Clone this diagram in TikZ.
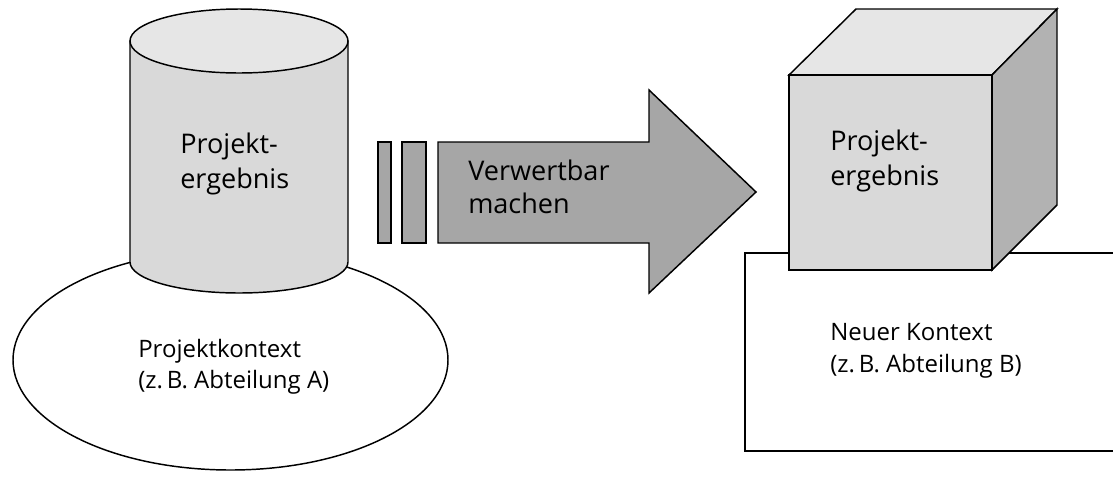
\documentclass[tikz,border=0pt]{standalone}
\usepackage{fontspec}
\setmainfont{Open Sans}
\begin{document}
\begin{tikzpicture}[x=0.75pt,y=-0.75pt,
  outl/.style={draw=black,line width=1.1pt,line join=miter},
  bigtxt/.style={anchor=base west,inner sep=0pt,font=\fontsize{20.3}{24}\selectfont},
  smalltxt/.style={anchor=base west,inner sep=0pt,font=\fontsize{18}{22}\selectfont}]
\useasboundingbox (0,0) rectangle (1113,476);
\definecolor{bodygray}{HTML}{D9D9D9}
\definecolor{topgray}{HTML}{E6E6E6}
\definecolor{sidegray}{HTML}{B2B2B2}
\definecolor{arrowgray}{HTML}{A6A6A6}

% context of the project: large ellipse
\draw[outl,fill=white] (230.5,360) ellipse [x radius=217.5,y radius=110];

% cylinder
\draw[outl,fill=bodygray] (130,41) -- (130,262) arc [start angle=180,end angle=0,x radius=109,y radius=31] -- (348,41) -- cycle;
\draw[outl,fill=topgray] (239,41) ellipse [x radius=109,y radius=32];

\node[bigtxt] (cylA) at (180,153) {Projekt-};
\node[bigtxt] (cylB) at (180,188) {ergebnis};
\node[smalltxt] (ctxA) at (138,357) {Projektkontext};
\node[smalltxt] (ctxB) at (138,388) {(z.\,B. Abteilung A)};

% arrow with two bars
\draw[outl,fill=arrowgray] (378,142) rectangle (391,243);
\draw[outl,fill=arrowgray] (402,142) rectangle (426,243);
\draw[outl,fill=arrowgray] (438,142) -- (649,142) -- (649,90) -- (756,192) -- (649,293) -- (649,243) -- (438,243) -- cycle;
\node[bigtxt] (arrA) at (468,180) {Verwertbar};
\node[bigtxt] (arrB) at (468,213) {machen};

% new context: rectangle running off the right edge
\begin{scope}
\clip (0,0) rectangle (1113,476);
\draw[outl,fill=white] (745,253) rectangle (1125,451);
\end{scope}
\node[smalltxt] (newA) at (830,340) {Neuer Kontext};
\node[smalltxt] (newB) at (830,372) {(z.\,B. Abteilung B)};

% cube
\draw[outl,fill=topgray] (789,75) -- (856,9) -- (1057,9) -- (992,75) -- cycle;
\draw[outl,fill=sidegray] (992,75) -- (1057,9) -- (1057,205) -- (992,270) -- cycle;
\draw[outl,fill=bodygray] (789,75) rectangle (992,270);
\node[bigtxt] (cubeA) at (830,150) {Projekt-};
\node[bigtxt] (cubeB) at (830,185) {ergebnis};
\end{tikzpicture}
\end{document}
